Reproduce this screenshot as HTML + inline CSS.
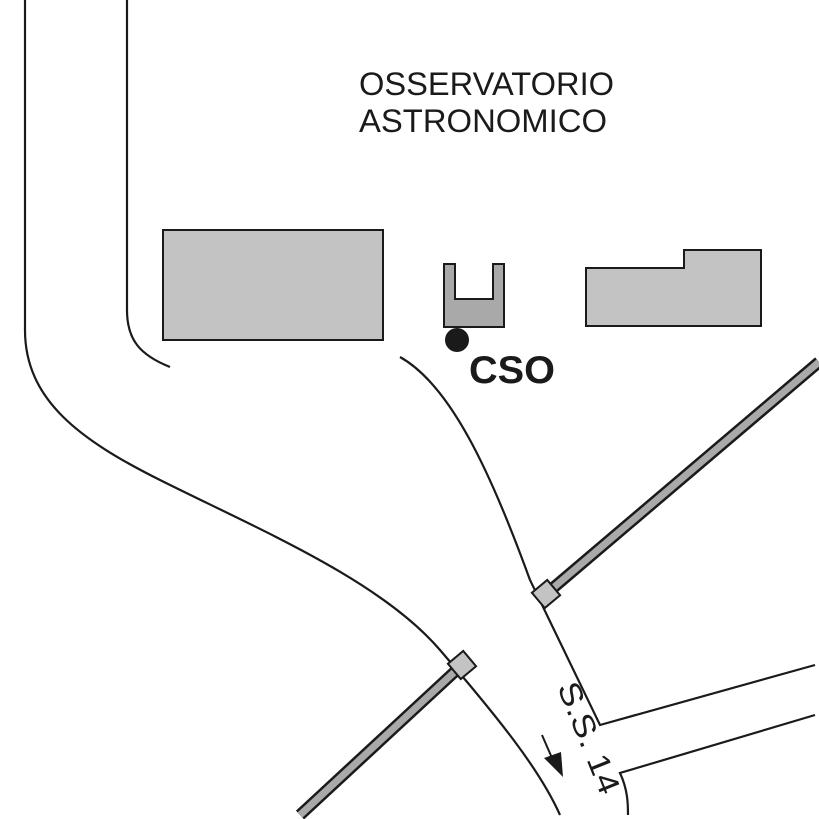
<!DOCTYPE html>
<html><head><style>html,body{margin:0;padding:0;background:#fff}svg{display:block}</style></head>
<body>
<svg width="819" height="819" viewBox="0 0 819 819" xmlns="http://www.w3.org/2000/svg">
<rect width="819" height="819" fill="#fff"/>
<g fill="none" stroke="#1a1a1a" stroke-width="2.2">
<path d="M25,0 L25,330 C25,400 80,440 160,480 C260,530 380,580 440,650 C500,720 540,770 560,815"/>
<path d="M127,0 L127,310 C127,340 140,355 170,367"/>
<path d="M400,357 C450,385 490,470 530,580 L600,725 L815,665"/>
<path d="M815,715 L620,773 C628,790 628,805 628,815"/>
</g>
<g stroke="#1a1a1a" stroke-width="12" stroke-linecap="butt"><line x1="546" y1="594" x2="819" y2="362"/><line x1="462" y1="665" x2="300" y2="815"/></g>
<g stroke="#a9a9a9" stroke-width="7"><line x1="546" y1="594" x2="819" y2="362"/><line x1="462" y1="665" x2="300" y2="815"/></g>
<g fill="#c3c3c3" stroke="#1a1a1a" stroke-width="2">
<rect x="-10" y="-10" width="20" height="20" transform="translate(546,594) rotate(-40)"/>
<rect x="-10" y="-10" width="20" height="20" transform="translate(462,665) rotate(-40)"/>
<rect x="163" y="230" width="220" height="110"/>
<polygon points="586,268 684,268 684,250 761,250 761,326 586,326"/>
</g>
<polygon points="444,264 455,264 455,299 493,299 493,264 504,264 504,327 444,327" fill="#a9a9a9" stroke="#1a1a1a" stroke-width="2"/>
<circle cx="457" cy="340" r="12" fill="#1a1a1a"/>
<g font-family="Liberation Sans, sans-serif" fill="#1a1a1a">
<text x="359" y="95" font-size="32" textLength="255" lengthAdjust="spacingAndGlyphs">OSSERVATORIO</text>
<text x="359" y="132" font-size="32" textLength="248" lengthAdjust="spacingAndGlyphs">ASTRONOMICO</text>
<text x="469" y="383" font-size="39" font-weight="bold" textLength="86" lengthAdjust="spacingAndGlyphs">CSO</text>
<text x="0" y="0" font-size="31" textLength="118" lengthAdjust="spacingAndGlyphs" transform="translate(557,687) rotate(68)">S.S. 14</text>
</g>
<line x1="542" y1="735" x2="552" y2="758" stroke="#1a1a1a" stroke-width="2"/>
<polygon points="544,758 561,752 563,777" fill="#1a1a1a"/>
</svg>
</body></html>
